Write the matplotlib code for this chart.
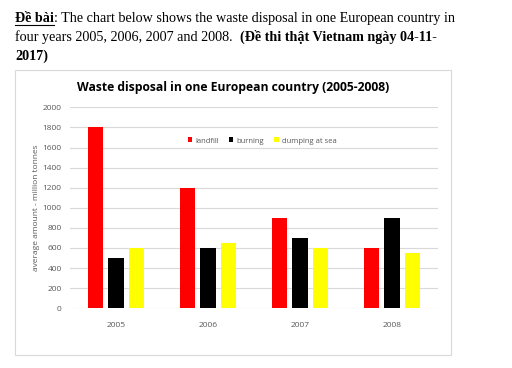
import matplotlib
matplotlib.use("Agg")
import numpy as np
from matplotlib import pyplot as plt
from matplotlib.patches import Rectangle
from matplotlib.lines import Line2D

# data
years = ["2005", "2006", "2007", "2008"]
landfill = [1800, 1200, 900, 600]
burning = [500, 600, 700, 900]
dumping = [600, 650, 600, 550]
series_names = ["landfill", "burning", "dumping at sea"]
yticks = [0, 200, 400, 600, 800, 1000, 1200, 1400, 1600, 1800, 2000]

W, H = 512, 368
fig = plt.figure(figsize=(W / 100, H / 100), dpi=100)
fig.patch.set_facecolor("white")

# light grey frame around the chart area
fig.patches.append(Rectangle((15 / W, 1 - 355 / H), 436 / W, 285 / H,
                             transform=fig.transFigure, fill=False,
                             edgecolor="#d9d9d9", linewidth=0.8))

ax = fig.add_axes([70 / W, 1 - 308.3 / H, 368 / W, 201 / H])

x = np.arange(len(years))
w = 0.17
off = 0.223
ax.bar(x - off, landfill, w, color="#ff0000", label=series_names[0], zorder=3)
ax.bar(x, burning, w, color="#000000", label=series_names[1], zorder=3)
ax.bar(x + off, dumping, w, color="#ffff00", label=series_names[2], zorder=3)

ax.set_xlim(-0.5, 3.5)
ax.set_ylim(0, 2000)
ax.set_yticks(yticks)
ax.set_xticks(x)
ax.set_xticklabels(years)
ax.grid(axis="y", color="#d9d9d9", linewidth=0.8, zorder=0)
for s in ax.spines.values():
    s.set_visible(False)
ax.tick_params(length=0, labelsize=6, labelcolor="#595959")
ax.tick_params(axis="x", pad=10)
ax.tick_params(axis="y", pad=6)
for lab in ax.get_xticklabels() + ax.get_yticklabels():
    lab.set_family("Open Sans")
ax.set_ylabel("average amount - million tonnes", fontsize=6, color="#595959",
              family="Open Sans", labelpad=2)

fig.text(233 / W, 1 - 88 / H, "Waste disposal in one European country (2005-2008)",
         ha="center", va="center", fontsize=8.7, fontweight="bold",
         family="Open Sans", color="#000000")

leg = fig.legend(loc="center", bbox_to_anchor=(262 / W, 1 - 141 / H), ncol=3,
                 frameon=False, handlelength=0.6, handleheight=0.6,
                 handletextpad=0.4, columnspacing=1.3,
                 prop={"family": "Open Sans", "size": 5.5})
for t in leg.get_texts():
    t.set_color("#595959")

# header text with mixed bold / regular runs
serif = "Liberation Serif"
fs = 10.2
renderer = fig.canvas.get_renderer()


def run_line(pieces, x0, y0):
    xx = x0
    out = []
    for txt, bold in pieces:
        t = fig.text(xx, y0, txt, fontsize=fs, family=serif,
                     fontweight="bold" if bold else "normal", va="baseline")
        bb = t.get_window_extent(renderer)
        xx += bb.width / W
        out.append(t)
    return out


line1 = run_line([("Đề bài", True), (": The chart below shows the waste disposal in one European country in", False)],
                 15 / W, 1 - 22 / H)
run_line([("four years 2005, 2006, 2007 and 2008.  ", False), ("(Đề thi thật Vietnam ngày 04-11-", True)],
         15 / W, 1 - 41 / H)
run_line([("2017)", True)], 15 / W, 1 - 60 / H)

# underline under the first bold run
bb = line1[0].get_window_extent(renderer)
fig.lines.append(Line2D([bb.x0 / W, bb.x1 / W], [1 - 24.5 / H, 1 - 24.5 / H],
                        transform=fig.transFigure, color="black", linewidth=0.8))

fig.savefig("out.png", dpi=100)
